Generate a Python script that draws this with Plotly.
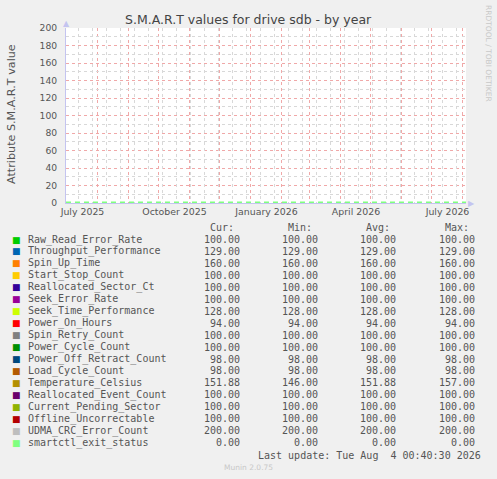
import plotly.graph_objects as go

# yearly munin view: 400 days ending at the last update
range_start = "2025-06-30 00:40"
range_end = "2026-08-04 00:40"

# smartctl_exit_status is the only series with points in this view
exit_dates = ["2025-06-30", "2025-08-01", "2025-09-01", "2025-10-01", "2025-11-01",
              "2025-12-01", "2026-01-01", "2026-02-01", "2026-03-01", "2026-04-01",
              "2026-05-01", "2026-06-01", "2026-07-01", "2026-08-04"]
exit_values = [0, 0, 0, 0, 0, 0, 0, 0, 0, 0, 0, 0, 0, 0]

month_labels = ["July 2025", "October 2025", "January 2026", "April 2026", "July 2026"]
month_label_dates = ["2025-07-16 12:00", "2025-10-16 12:00", "2026-01-16 12:00",
                     "2026-04-16", "2026-07-16 12:00"]

names = ["Raw_Read_Error_Rate", "Throughput_Performance", "Spin_Up_Time", "Start_Stop_Count",
         "Reallocated_Sector_Ct", "Seek_Error_Rate", "Seek_Time_Performance", "Power_On_Hours",
         "Spin_Retry_Count", "Power_Cycle_Count", "Power_Off_Retract_Count", "Load_Cycle_Count",
         "Temperature_Celsius", "Reallocated_Event_Count", "Current_Pending_Sector",
         "Offline_Uncorrectable", "UDMA_CRC_Error_Count", "smartctl_exit_status"]
colors = ["#00cc00", "#0066b3", "#ff8000", "#ffcc00", "#330099", "#990099", "#ccff00", "#ff0000",
          "#808080", "#008f00", "#00487d", "#b35a00", "#b38f00", "#6b006b", "#8fb300", "#b30000",
          "#bebebe", "#80ff80"]
cur = [100, 129, 160, 100, 100, 100, 128, 94, 100, 100, 98, 98, 151.88, 100, 100, 100, 200, 0]
mins = [100, 129, 160, 100, 100, 100, 128, 94, 100, 100, 98, 98, 146, 100, 100, 100, 200, 0]
avgs = [100, 129, 160, 100, 100, 100, 128, 94, 100, 100, 98, 98, 151.88, 100, 100, 100, 200, 0]
maxs = [100, 129, 160, 100, 100, 100, 128, 94, 100, 100, 98, 98, 157, 100, 100, 100, 200, 0]

W, H = 497, 479
L, R, T, B = 66, 31, 28, 276
PW, PH = W - L - R, H - T - B


def px(x):
    return (x - L) / PW


def py(y):
    return (H - B - y) / PH


TXT = "#555555"
MONO = "DejaVu Sans Mono"
SANS = "DejaVu Sans"
AXIS = "#c4c4f0"

fig = go.Figure()
fig.add_trace(go.Scatter(
    x=exit_dates, y=exit_values, mode="lines",
    line=dict(color="#80ff80", width=3, dash="5px,4px"),
    showlegend=False, hoverinfo="skip"))
# empty trace so the overlaid axis (biweekly grid) is drawn
fig.add_trace(go.Scatter(x=[range_start, range_end], y=[None, None], xaxis="x2",
                         showlegend=False, hoverinfo="skip"))

fig.update_layout(
    width=W, height=H, margin=dict(l=L, r=R, t=T, b=B),
    paper_bgcolor="#f0f0f0", plot_bgcolor="#ffffff",
    showlegend=False,
    xaxis=dict(
        range=[range_start, range_end], tickmode="array",
        tickvals=month_label_dates, ticktext=month_labels,
        showgrid=False, ticks="", showline=True, linecolor=AXIS, linewidth=1,
        zeroline=False, layer="below traces",
        tickfont=dict(family=SANS, size=9.4, color=TXT),
        minor=dict(dtick="M1", tick0="2025-07-01", showgrid=True,
                   gridcolor="#f0a8a8", griddash="dot", gridwidth=1, ticks=""),
    ),
    xaxis2=dict(
        overlaying="x", matches="x", range=[range_start, range_end],
        dtick=14 * 86400000, tick0="2025-07-13", showgrid=True,
        gridcolor="#d8d8d8", griddash="dot", gridwidth=1,
        showticklabels=False, ticks="", zeroline=False, layer="below traces",
    ),
    yaxis=dict(
        range=[0, 200], dtick=20, showgrid=True, gridcolor="#f0a8a8", griddash="dot",
        ticks="", ticklabelstandoff=6, showline=True, linecolor=AXIS, linewidth=1,
        zeroline=False, layer="below traces",
        tickfont=dict(family=SANS, size=9.2, color=TXT),
        minor=dict(dtick=10, showgrid=True, gridcolor="#d8d8d8", griddash="dot", ticks=""),
    ),
)

ann = []
ann.append(dict(text="S.M.A.R.T values for drive sdb - by year", x=px(248.5), y=py(19),
                font=dict(family=SANS, size=12.5, color="#444444")))
ann.append(dict(text="Attribute S.M.A.R.T value", x=px(11), y=py(114), textangle=-90,
                font=dict(family=SANS, size=11.2, color=TXT)))
ann.append(dict(text="RRDTOOL / TOBI OETIKER", x=px(489), y=py(53), textangle=90,
                font=dict(family=SANS, size=7.5, color="#c8c8c8")))
ann.append(dict(text="▲", x=px(66.5), y=py(24), font=dict(family=SANS, size=8, color=AXIS)))
ann.append(dict(text="▶", x=px(471), y=py(203), font=dict(family=SANS, size=8, color=AXIS)))

# legend table
col_right = [242, 320, 398, 477]
headers = ["Cur:", "Min:", "Avg:", "Max:"]
for cx, h in zip(col_right, headers):
    ann.append(dict(text=h, x=px(cx - 6), y=py(227.5), xanchor="right",
                    font=dict(family=MONO, size=10, color=TXT)))
for i, name in enumerate(names):
    yy = 239.5 + i * 11.95
    ann.append(dict(text="■", x=px(16.5), y=py(yy), font=dict(family=SANS, size=9, color=colors[i])))
    ann.append(dict(text=name, x=px(26), y=py(yy), xanchor="left",
                    font=dict(family=MONO, size=10, color=TXT)))
    for cx, vals in zip(col_right, [cur, mins, avgs, maxs]):
        ann.append(dict(text="%.2f" % vals[i], x=px(cx), y=py(yy), xanchor="right",
                        font=dict(family=MONO, size=10, color=TXT)))
ann.append(dict(text="Last update: Tue Aug \u00a04 00:40:30 2026", x=px(483), y=py(455.5),
                xanchor="right", font=dict(family=MONO, size=10, color=TXT)))
ann.append(dict(text="Munin 2.0.75", x=px(248), y=py(467.5),
                font=dict(family=SANS, size=7.5, color="#c8c8c8")))

for a in ann:
    a.setdefault("xanchor", "center")
    a.update(xref="paper", yref="paper", yanchor="middle", showarrow=False)
fig.update_layout(annotations=ann)

fig.write_html("out.html", config={"displayModeBar": False},
               post_script="document.body.style.margin='0';")
